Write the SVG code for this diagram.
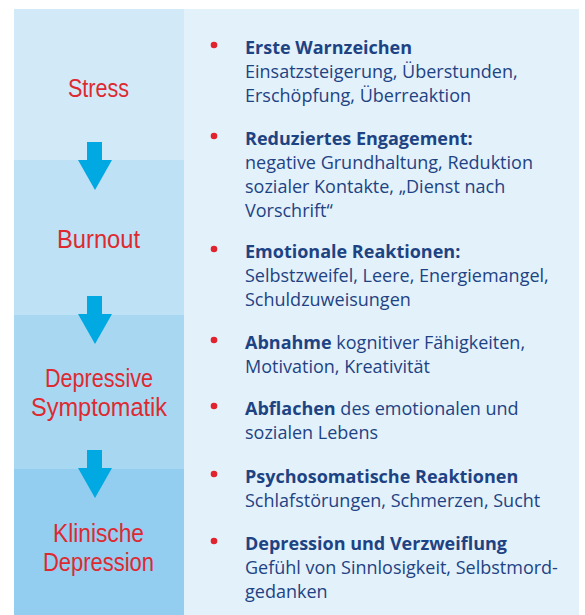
<svg xmlns="http://www.w3.org/2000/svg" xmlns:xlink="http://www.w3.org/1999/xlink" width="585" height="615" viewBox="0 0 585 615">
  <defs>
    <style>
      .stage { font-family: "Liberation Sans", "Open Sans", sans-serif; font-size: 25px; fill: #dd2a31; text-anchor: middle; }
      .item { font-family: "Open Sans", "Noto Sans", "Liberation Sans", sans-serif; font-size: 18px; fill: #1e4383; }
      .item .b { font-weight: bold; }
      .bullet { fill: #e2222c; }
      .arrow { fill: #00a9e2; }
    </style>
    <!-- down arrow, origin at top of the stem -->
    <path id="down" d="M87,0 H102 V18 H112 L95,48 L78,18 H87 Z"/>
  </defs>

  <rect width="585" height="615" fill="#ffffff"/>
  <!-- right-hand panel -->
  <rect x="184" y="9" width="395" height="606" fill="#e3f1fb"/>

  <!-- stages -->
  <g id="stage-stress">
    <rect x="14" y="9" width="170" height="151" fill="#d2e9f7"/>
    <text class="stage" x="98.5" y="97" textLength="61" lengthAdjust="spacingAndGlyphs">Stress</text>
  </g>
  <g id="stage-burnout">
    <rect x="14" y="160" width="170" height="155" fill="#bee1f5"/>
    <text class="stage" x="98.5" y="248" textLength="83" lengthAdjust="spacingAndGlyphs">Burnout</text>
  </g>
  <g id="stage-depressive-symptomatik">
    <rect x="14" y="315" width="170" height="154" fill="#a8d7f2"/>
    <text class="stage" x="99" y="387" textLength="108" lengthAdjust="spacingAndGlyphs">Depressive</text>
    <text class="stage" x="99" y="416" textLength="136" lengthAdjust="spacingAndGlyphs">Symptomatik</text>
  </g>
  <g id="stage-klinische-depression">
    <rect x="14" y="469" width="170" height="146" fill="#93cdef"/>
    <text class="stage" x="98.5" y="542" textLength="91" lengthAdjust="spacingAndGlyphs">Klinische</text>
    <text class="stage" x="98.5" y="571" textLength="111" lengthAdjust="spacingAndGlyphs">Depression</text>
  </g>

  <!-- connectors -->
  <g id="connectors" class="arrow">
    <use xlink:href="#down" transform="translate(0,142)"/>
    <use xlink:href="#down" transform="translate(0,296)"/>
    <use xlink:href="#down" transform="translate(0,450)"/>
  </g>

  <!-- symptom list -->
  <g id="item-warnzeichen" class="item">
    <circle class="bullet" cx="214" cy="45" r="3.3"/>
    <text x="245" y="54"><tspan class="b">Erste Warnzeichen</tspan></text>
    <text x="245" y="78">Einsatzsteigerung, Überstunden,</text>
    <text x="245" y="102">Erschöpfung, Überreaktion</text>
  </g>
  <g id="item-engagement" class="item">
    <circle class="bullet" cx="214" cy="136" r="3.3"/>
    <text x="245" y="145"><tspan class="b">Reduziertes Engagement:</tspan></text>
    <text x="245" y="169">negative Grundhaltung, Reduktion</text>
    <text x="245" y="193">sozialer Kontakte, „Dienst nach</text>
    <text x="245" y="217">Vorschrift“</text>
  </g>
  <g id="item-emotional" class="item">
    <circle class="bullet" cx="214" cy="249" r="3.3"/>
    <text x="245" y="258"><tspan class="b">Emotionale Reaktionen:</tspan></text>
    <text x="245" y="282">Selbstzweifel, Leere, Energiemangel,</text>
    <text x="245" y="306">Schuldzuweisungen</text>
  </g>
  <g id="item-abnahme" class="item">
    <circle class="bullet" cx="214" cy="340" r="3.3"/>
    <text x="245" y="349"><tspan class="b">Abnahme</tspan> kognitiver Fähigkeiten,</text>
    <text x="245" y="373">Motivation, Kreativität</text>
  </g>
  <g id="item-abflachen" class="item">
    <circle class="bullet" cx="214" cy="406" r="3.3"/>
    <text x="245" y="415"><tspan class="b">Abflachen</tspan> des emotionalen und</text>
    <text x="245" y="439">sozialen Lebens</text>
  </g>
  <g id="item-psychosomatisch" class="item">
    <circle class="bullet" cx="214" cy="474" r="3.3"/>
    <text x="245" y="483"><tspan class="b">Psychosomatische Reaktionen</tspan></text>
    <text x="245" y="507">Schlafstörungen, Schmerzen, Sucht</text>
  </g>
  <g id="item-verzweiflung" class="item">
    <circle class="bullet" cx="214" cy="541" r="3.3"/>
    <text x="245" y="550"><tspan class="b">Depression und Verzweiflung</tspan></text>
    <text x="245" y="574">Gefühl von Sinnlosigkeit, Selbstmord-</text>
    <text x="245" y="598">gedanken</text>
  </g>
</svg>
